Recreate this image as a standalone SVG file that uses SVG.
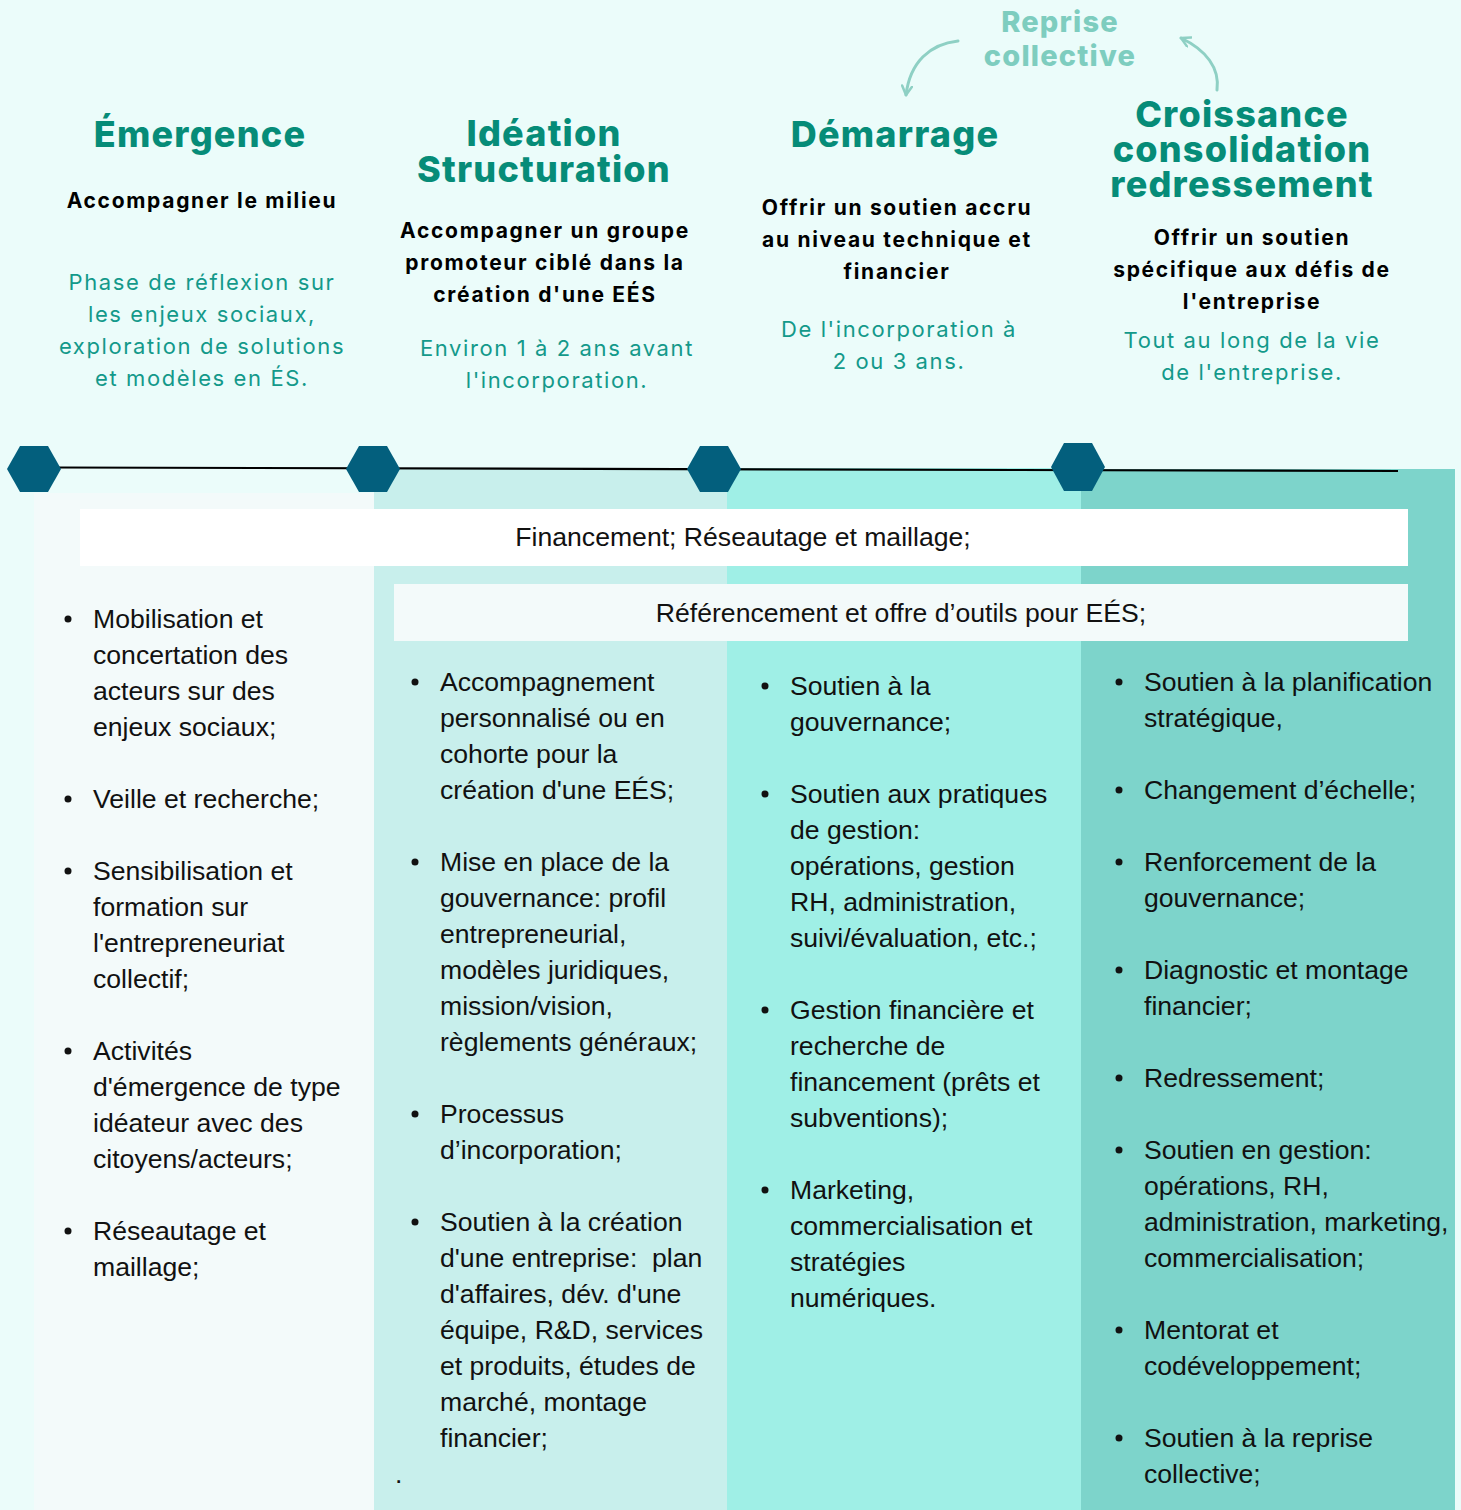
<svg xmlns="http://www.w3.org/2000/svg" width="1461" height="1510" viewBox="0 0 1461 1510">
<defs>
<style>
.title{font-family:Inter,"Noto Sans",sans-serif;font-weight:800;font-size:36px;letter-spacing:1.2px;fill:#068C78;text-anchor:middle}
.rep{font-family:Inter,"Noto Sans",sans-serif;font-weight:800;font-size:29px;letter-spacing:1.2px;fill:#7ECDBF;text-anchor:middle}
.sub{font-family:Inter,"Noto Sans",sans-serif;font-weight:700;font-size:21px;letter-spacing:1.7px;fill:#000;text-anchor:middle}
.desc{font-family:Inter,"Noto Sans",sans-serif;font-weight:400;font-size:22px;letter-spacing:1.6px;fill:#13998A;text-anchor:middle}
.li{font-family:"Liberation Sans",Arial,sans-serif;font-size:26.6px;fill:#111}
.band{font-family:"Liberation Sans",Arial,sans-serif;font-size:26.6px;fill:#111;text-anchor:middle}
.hex{fill:#035F7D}
.dot{fill:#111}
.arc{fill:none;stroke:#8ED0C4;stroke-width:3;stroke-linecap:round}
</style>
<marker id="ah" viewBox="0 0 12 12" refX="10" refY="6" markerWidth="12" markerHeight="12" markerUnits="userSpaceOnUse" orient="auto">
<path d="M1,1 L10,6 L1,11" fill="none" stroke="#8ED0C4" stroke-width="2.5" stroke-linecap="round" stroke-linejoin="round"/>
</marker>
</defs>
<rect x="0" y="0" width="1461" height="1510" fill="#EBFCFA"/>
<g id="panels">
<rect x="34" y="493" width="340" height="1017" fill="#F3FAFA"/>
<rect x="374" y="468" width="353" height="1042" fill="#C8EFEC"/>
<rect x="727" y="468" width="354" height="1042" fill="#9FEFE6"/>
<rect x="1081" y="469" width="374" height="1041" fill="#7DD4CB"/>
</g>
<g id="connectors">
<line x1="58" y1="467.5" x2="1398" y2="471" stroke="#000" stroke-width="2.2"/>
<path class="arc" d="M958,41 C930,44 910,62 906,95" marker-end="url(#ah)"/>
<path class="arc" d="M1217,90 C1220,68 1206,50 1181,38" marker-end="url(#ah)"/>
</g>
<g id="hexagons">
<polygon class="hex" points="7,469 20,446 48,446 61,469 48,492 20,492"/>
<polygon class="hex" points="346,469 359,446 387,446 400,469 387,492 359,492"/>
<polygon class="hex" points="687,469 700,446 728,446 741,469 728,492 700,492"/>
<polygon class="hex" points="1051,467 1064,443 1092,443 1105,467 1092,491 1064,491"/>
</g>
<g id="reprise">
<text class="rep" x="1060" y="32">Reprise</text>
<text class="rep" x="1060" y="66">collective</text>
</g>
<g id="emergence">
<text class="title" x="200" y="147">Émergence</text>
<text class="sub" x="202" y="208">Accompagner le milieu</text>
<text class="desc" x="202" y="290">Phase de réflexion sur</text>
<text class="desc" x="202" y="322">les enjeux sociaux,</text>
<text class="desc" x="202" y="354">exploration de solutions</text>
<text class="desc" x="202" y="386">et modèles en ÉS.</text>
</g>
<g id="ideation">
<text class="title" x="544" y="146">Idéation</text>
<text class="title" x="544" y="182">Structuration</text>
<text class="sub" x="545" y="238">Accompagner un groupe</text>
<text class="sub" x="545" y="270">promoteur ciblé dans la</text>
<text class="sub" x="545" y="302">création d'une EÉS</text>
<text class="desc" x="557" y="356">Environ 1 à 2 ans avant</text>
<text class="desc" x="557" y="388">l'incorporation.</text>
</g>
<g id="demarrage">
<text class="title" x="895" y="147">Démarrage</text>
<text class="sub" x="897" y="215">Offrir un soutien accru</text>
<text class="sub" x="897" y="247">au niveau technique et</text>
<text class="sub" x="897" y="279">financier</text>
<text class="desc" x="899" y="337">De l'incorporation à</text>
<text class="desc" x="899" y="369">2 ou 3 ans.</text>
</g>
<g id="croissance">
<text class="title" x="1242" y="127">Croissance</text>
<text class="title" x="1242" y="162">consolidation</text>
<text class="title" x="1242" y="197">redressement</text>
<text class="sub" x="1252" y="245">Offrir un soutien</text>
<text class="sub" x="1252" y="277">spécifique aux défis de</text>
<text class="sub" x="1252" y="309">l'entreprise</text>
<text class="desc" x="1252" y="348">Tout au long de la vie</text>
<text class="desc" x="1252" y="380">de l'entreprise.</text>
</g>
<g id="band-financement">
<rect x="80" y="509" width="1328" height="57" fill="#FFFFFF"/>
<text class="band" x="743" y="546">Financement; Réseautage et maillage;</text>
</g>
<g id="band-referencement">
<rect x="394" y="584" width="1014" height="57" fill="#F3FAFA"/>
<text class="band" x="901" y="622">Référencement et offre d’outils pour EÉS;</text>
</g>
<g id="list-emergence">
<circle class="dot" cx="68" cy="619" r="3.5"/>
<circle class="dot" cx="68" cy="799" r="3.5"/>
<circle class="dot" cx="68" cy="871" r="3.5"/>
<circle class="dot" cx="68" cy="1051" r="3.5"/>
<circle class="dot" cx="68" cy="1231" r="3.5"/>
<text class="li" x="93" y="628">Mobilisation et</text>
<text class="li" x="93" y="664">concertation des</text>
<text class="li" x="93" y="700">acteurs sur des</text>
<text class="li" x="93" y="736">enjeux sociaux;</text>
<text class="li" x="93" y="808">Veille et recherche;</text>
<text class="li" x="93" y="880">Sensibilisation et</text>
<text class="li" x="93" y="916">formation sur</text>
<text class="li" x="93" y="952">l'entrepreneuriat</text>
<text class="li" x="93" y="988">collectif;</text>
<text class="li" x="93" y="1060">Activités</text>
<text class="li" x="93" y="1096">d'émergence de type</text>
<text class="li" x="93" y="1132">idéateur avec des</text>
<text class="li" x="93" y="1168">citoyens/acteurs;</text>
<text class="li" x="93" y="1240">Réseautage et</text>
<text class="li" x="93" y="1276">maillage;</text>
</g>
<g id="list-ideation">
<circle class="dot" cx="415" cy="682" r="3.5"/>
<circle class="dot" cx="415" cy="862" r="3.5"/>
<circle class="dot" cx="415" cy="1114" r="3.5"/>
<circle class="dot" cx="415" cy="1222" r="3.5"/>
<text class="li" x="440" y="691">Accompagnement</text>
<text class="li" x="440" y="727">personnalisé ou en</text>
<text class="li" x="440" y="763">cohorte pour la</text>
<text class="li" x="440" y="799">création d'une EÉS;</text>
<text class="li" x="440" y="871">Mise en place de la</text>
<text class="li" x="440" y="907">gouvernance: profil</text>
<text class="li" x="440" y="943">entrepreneurial,</text>
<text class="li" x="440" y="979">modèles juridiques,</text>
<text class="li" x="440" y="1015">mission/vision,</text>
<text class="li" x="440" y="1051">règlements généraux;</text>
<text class="li" x="440" y="1123">Processus</text>
<text class="li" x="440" y="1159">d’incorporation;</text>
<text class="li" x="440" y="1231">Soutien à la création</text>
<text class="li" x="440" y="1267" xml:space="preserve">d'une entreprise:  plan</text>
<text class="li" x="440" y="1303">d'affaires, dév. d'une</text>
<text class="li" x="440" y="1339">équipe, R&amp;D, services</text>
<text class="li" x="440" y="1375">et produits, études de</text>
<text class="li" x="440" y="1411">marché, montage</text>
<text class="li" x="440" y="1447">financier;</text>
<text class="li" x="395" y="1483">.</text>
</g>
<g id="list-demarrage">
<circle class="dot" cx="765" cy="686" r="3.5"/>
<circle class="dot" cx="765" cy="794" r="3.5"/>
<circle class="dot" cx="765" cy="1010" r="3.5"/>
<circle class="dot" cx="765" cy="1190" r="3.5"/>
<text class="li" x="790" y="695">Soutien à la</text>
<text class="li" x="790" y="731">gouvernance;</text>
<text class="li" x="790" y="803">Soutien aux pratiques</text>
<text class="li" x="790" y="839">de gestion:</text>
<text class="li" x="790" y="875">opérations, gestion</text>
<text class="li" x="790" y="911">RH, administration,</text>
<text class="li" x="790" y="947">suivi/évaluation, etc.;</text>
<text class="li" x="790" y="1019">Gestion financière et</text>
<text class="li" x="790" y="1055">recherche de</text>
<text class="li" x="790" y="1091">financement (prêts et</text>
<text class="li" x="790" y="1127">subventions);</text>
<text class="li" x="790" y="1199">Marketing,</text>
<text class="li" x="790" y="1235">commercialisation et</text>
<text class="li" x="790" y="1271">stratégies</text>
<text class="li" x="790" y="1307">numériques.</text>
</g>
<g id="list-croissance">
<circle class="dot" cx="1119" cy="682" r="3.5"/>
<circle class="dot" cx="1119" cy="790" r="3.5"/>
<circle class="dot" cx="1119" cy="862" r="3.5"/>
<circle class="dot" cx="1119" cy="970" r="3.5"/>
<circle class="dot" cx="1119" cy="1078" r="3.5"/>
<circle class="dot" cx="1119" cy="1150" r="3.5"/>
<circle class="dot" cx="1119" cy="1330" r="3.5"/>
<circle class="dot" cx="1119" cy="1438" r="3.5"/>
<text class="li" x="1144" y="691">Soutien à la planification</text>
<text class="li" x="1144" y="727">stratégique,</text>
<text class="li" x="1144" y="799">Changement d’échelle;</text>
<text class="li" x="1144" y="871">Renforcement de la</text>
<text class="li" x="1144" y="907">gouvernance;</text>
<text class="li" x="1144" y="979">Diagnostic et montage</text>
<text class="li" x="1144" y="1015">financier;</text>
<text class="li" x="1144" y="1087">Redressement;</text>
<text class="li" x="1144" y="1159">Soutien en gestion:</text>
<text class="li" x="1144" y="1195">opérations, RH,</text>
<text class="li" x="1144" y="1231">administration, marketing,</text>
<text class="li" x="1144" y="1267">commercialisation;</text>
<text class="li" x="1144" y="1339">Mentorat et</text>
<text class="li" x="1144" y="1375">codéveloppement;</text>
<text class="li" x="1144" y="1447">Soutien à la reprise</text>
<text class="li" x="1144" y="1483">collective;</text>
</g>
</svg>
